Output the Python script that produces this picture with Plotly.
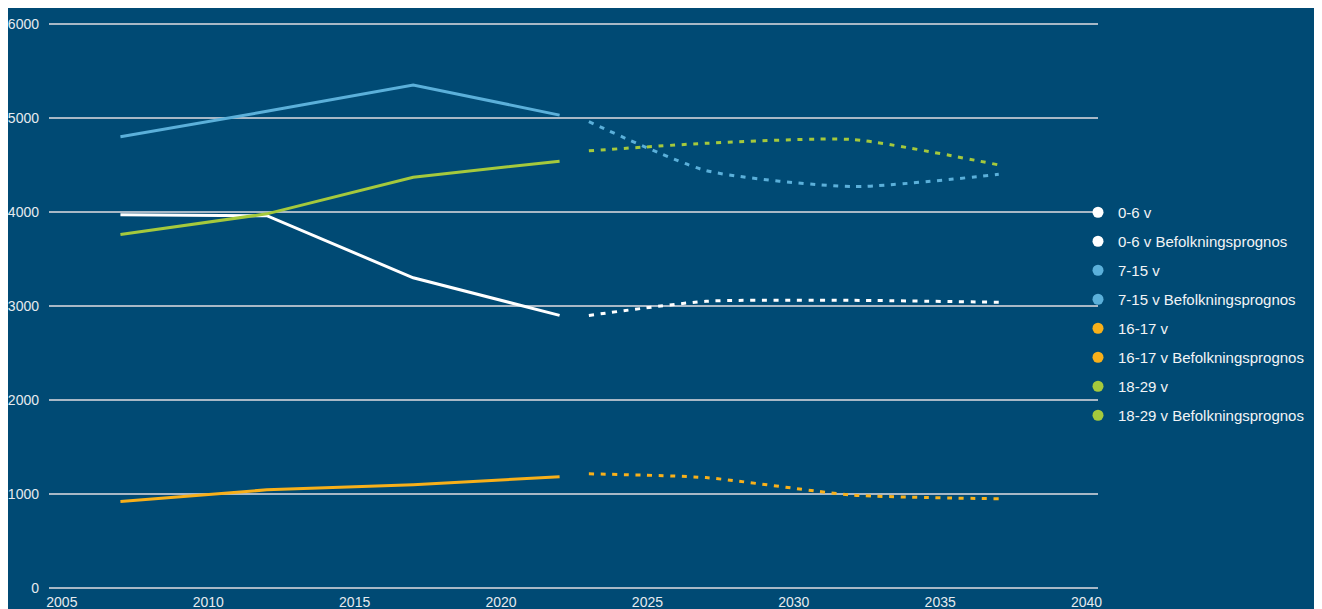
import plotly.graph_objects as go

# ---- data ----
years_hist = [2007, 2012, 2017, 2022]
years_prog = [2023, 2027, 2032, 2037]

age_0_6 = [3970, 3960, 3300, 2900]
age_0_6_prog = [2900, 3050, 3060, 3040]
age_7_15 = [4800, 5070, 5350, 5030]
age_7_15_prog = [4960, 4440, 4270, 4400]
age_16_17 = [920, 1045, 1100, 1185]
age_16_17_prog = [1215, 1175, 990, 950]
age_18_29 = [3760, 3980, 4370, 4540]
age_18_29_prog = [4650, 4730, 4770, 4500]

series = [
    ("0-6 v", years_hist, age_0_6, "#ffffff", False),
    ("0-6 v Befolkningsprognos", years_prog, age_0_6_prog, "#ffffff", True),
    ("7-15 v", years_hist, age_7_15, "#5bb0da", False),
    ("7-15 v Befolkningsprognos", years_prog, age_7_15_prog, "#5bb0da", True),
    ("16-17 v", years_hist, age_16_17, "#f8b01a", False),
    ("16-17 v Befolkningsprognos", years_prog, age_16_17_prog, "#f8b01a", True),
    ("18-29 v", years_hist, age_18_29, "#a5c93c", False),
    ("18-29 v Befolkningsprognos", years_prog, age_18_29_prog, "#a5c93c", True),
]

BG = "#004a74"
W, H = 1314, 601
ML, MR, MT, MB = 41, 224, 14, 19
PW = W - ML - MR
PH = H - MT - MB

fig = go.Figure()

# lines (white first, green on top)
for name, xs, ys, col, prog in series:
    line = dict(color=col, width=3,
                dash="5px,6.6px" if prog else "solid",
                shape="spline" if prog else "linear")
    if prog:
        line["smoothing"] = 0.6
    fig.add_trace(go.Scatter(
        x=xs, y=ys, mode="lines", name=name, showlegend=False,
        legendgroup=name, line=line,
    ))

# legend entries with round markers
for name, xs, ys, col, prog in series:
    fig.add_trace(go.Scatter(
        x=[None], y=[None], mode="markers", name=name, legendgroup=name,
        marker=dict(color=col, size=11, symbol="circle"),
        showlegend=True,
    ))

def px_to_paper_x(px):
    return (px - ML) / PW

def px_to_paper_y(py):
    return (H - MB - py) / PH

fig.update_layout(
    width=W, height=H,
    margin=dict(l=ML, r=MR, t=MT, b=MB, pad=0, autoexpand=False),
    paper_bgcolor=BG,
    plot_bgcolor=BG,
    font=dict(family="Liberation Sans, Arial, sans-serif", color="#e6ebef", size=14),
    showlegend=True,
    legend=dict(
        x=px_to_paper_x(1070), xanchor="left",
        y=px_to_paper_y(188), yanchor="top",
        font=dict(size=15, color="#f2f4f6"),
        bgcolor="rgba(0,0,0,0)",
        traceorder="grouped",
        tracegroupgap=6.5,
        itemwidth=30,
    ),
    xaxis=dict(
        range=[2004.56, 2040.39], tick0=2005, dtick=5,
        showgrid=False, zeroline=False, showline=False, ticks="",
        tickfont=dict(size=14, color="#e6ebef"),
        ticklabelstandoff=2, automargin=False,
    ),
    yaxis=dict(
        range=[-20, 6020], dtick=1000, tick0=0,
        showgrid=True, gridcolor="#a8b8c6", gridwidth=2,
        zeroline=False, showline=False, ticks="",
        tickfont=dict(size=14, color="#e6ebef"),
        ticklabelstandoff=9, automargin=False,
    ),
)

fig.write_html("out.html")
